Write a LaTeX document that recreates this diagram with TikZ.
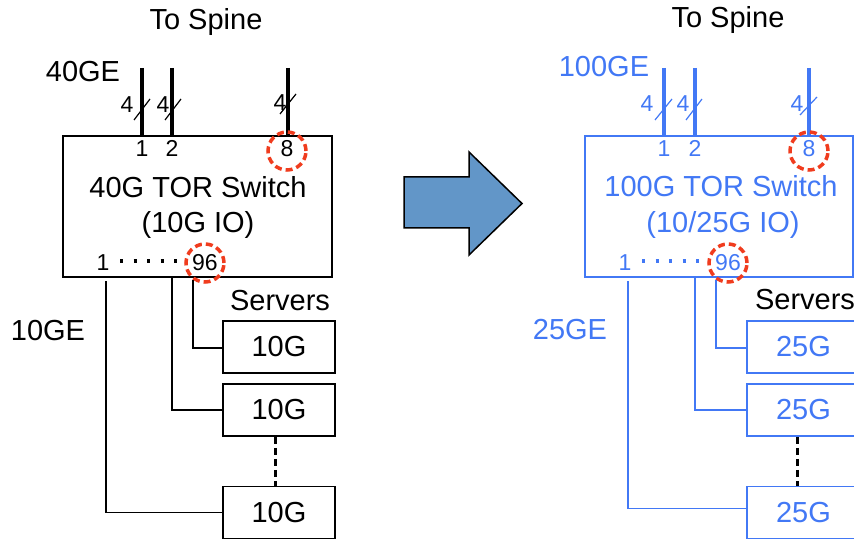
\documentclass[tikz,border=0pt]{standalone}
\usepackage{fontspec}
\setmainfont{Liberation Sans}
\definecolor{nblue}{RGB}{66,120,245}
\definecolor{nred}{RGB}{240,60,30}
\definecolor{arrowfill}{RGB}{98,150,200}
\begin{document}
\begin{tikzpicture}[x=1pt,y=-1pt,
  txt/.style={font=\fontsize{29}{31}\selectfont, inner sep=0pt, anchor=base},
  sml/.style={font=\fontsize{23}{25}\selectfont, inner sep=0pt, anchor=base},
  uplink/.style={line width=3.4pt},
  slashline/.style={line width=1.2pt},
  portcircle/.style={draw=nred, line width=3.5pt, dash pattern=on 7pt off 4pt, circle, minimum size=38pt, inner sep=0pt},
  dotrow/.style={line width=3.2pt, dash pattern=on 3.2pt off 10.3pt},
  wire/.style={line width=1.5pt},
  switchbox/.style={draw, line width=1.5pt, rectangle, inner sep=0pt},
  serverbox/.style={draw, line width=1.8pt, rectangle, inner sep=0pt, minimum width=112pt, minimum height=52pt, font=\fontsize{29}{31}\selectfont},
  gapline/.style={line width=3pt, dash pattern=on 7pt off 4pt},
]
\useasboundingbox (0,0) rectangle (854,540);

% ================= LEFT =================
\node[switchbox, minimum width=269pt, minimum height=141pt] (swL) at (197.5,206.5) {};
\node[txt] (spineL) at (206,30) {To Spine};
\node[txt] (geL) at (83,82) {40GE};
\node[txt] (titleL) at (198,198) {40G TOR Switch};
\node[txt] (ioL) at (198,233) {(10G IO)};

\coordinate (uL1) at (142,68);
\coordinate (uL2) at (172,68);
\coordinate (uL8) at (288,68);
\draw[uplink] (uL1) -- (uL1 |- swL.north);
\draw[uplink] (uL2) -- (uL2 |- swL.north);
\draw[uplink] (uL8) -- (uL8 |- swL.north);
\draw[slashline] (134,120) -- (150,99);
\draw[slashline] (165,120) -- (181,99);
\draw[slashline] (280,114) -- (296,94);
\node[sml] (fL1) at (127,113) {4};
\node[sml] (fL2) at (163,113) {4};
\node[sml] (fL8) at (280,111) {4};

\node[sml] (pL1) at (142,157) {1};
\node[sml] (pL2) at (172,157) {2};
\node[sml] (pL8) at (287,157) {8};
\node[portcircle] (cL8) at (287,151) {};

\node[sml] (dL1) at (103,270) {1};
\node[sml] (dL96) at (205,270) {96};
\draw[dotrow] (120,261) -- (180,261);
\node[portcircle] (cL96) at (205,263) {};

\node[txt] (servL) at (280,310) {Servers};
\node[txt] (tenge) at (48,340) {10GE};
\node[serverbox] (sL1) at (279,347) {10G};
\node[serverbox] (sL2) at (279,410) {10G};
\node[serverbox] (sL3) at (279,512.5) {10G};

\coordinate (wL1) at (106,281);
\coordinate (wL2) at (172,277);
\coordinate (wL3) at (193,280);
\draw[wire] (wL1) |- (sL3.west);
\draw[wire] (wL2) |- (sL2.west);
\draw[wire] (wL3) |- ([yshift=-1pt]sL1.west);
\draw[gapline] ([xshift=-4pt]sL2.south) -- ([xshift=-4pt]sL3.north);

% ================= ARROW =================
\draw[fill=arrowfill, line width=1.5pt, line join=miter]
  (404,177) -- (469,177) -- (469,152) -- (522,203.5) -- (469,255) -- (469,228) -- (404,228) -- cycle;

% ================= RIGHT =================
\node[switchbox, draw=nblue, minimum width=268pt, minimum height=141pt] (swR) at (719,206.5) {};
\node[txt] (spineR) at (728,28) {To Spine};
\node[txt, text=nblue] (geR) at (604,77) {100GE};
\node[txt, text=nblue] (titleR) at (721,197) {100G TOR Switch};
\node[txt, text=nblue] (ioR) at (723,233) {(10/25G IO)};

\coordinate (uR1) at (664,68);
\coordinate (uR2) at (695,68);
\coordinate (uR8) at (809,68);
\draw[uplink, nblue] (uR1) -- (uR1 |- swR.north);
\draw[uplink, nblue] (uR2) -- (uR2 |- swR.north);
\draw[uplink, nblue] (uR8) -- (uR8 |- swR.north);
\draw[slashline, nblue] (655,120) -- (672,99);
\draw[slashline, nblue] (686,120) -- (702,99);
\draw[slashline, nblue] (800,115) -- (817,97);
\node[sml, text=nblue] (fR1) at (647,112) {4};
\node[sml, text=nblue] (fR2) at (683,112) {4};
\node[sml, text=nblue] (fR8) at (797,112) {4};

\node[sml, text=nblue] (pR1) at (664,157) {1};
\node[sml, text=nblue] (pR2) at (695,157) {2};
\node[sml, text=nblue] (pR8) at (809,157) {8};
\node[portcircle] (cR8) at (809,151) {};

\node[sml, text=nblue] (dR1) at (625,270) {1};
\node[sml, text=nblue] (dR96) at (728,270) {96};
\draw[dotrow, nblue] (642,261) -- (702,261);
\node[portcircle] (cR96) at (728,263) {};

\node[txt] (servR) at (805,309) {Servers};
\node[txt, text=nblue] (tfge) at (570,339) {25GE};
\node[serverbox, draw=nblue, text=nblue, minimum width=113pt] (sR1) at (803.5,347) {25G};
\node[serverbox, draw=nblue, text=nblue, minimum width=113pt] (sR2) at (803.5,410) {25G};
\node[serverbox, draw=nblue, text=nblue, minimum width=113pt] (sR3) at (803.5,512.5) {25G};

\coordinate (wR1) at (628,281);
\coordinate (wR2) at (695,277);
\coordinate (wR3) at (716,280);
\draw[wire, nblue] (wR1) |- ([yshift=4pt]sR3.west);
\draw[wire, nblue] (wR2) |- (sR2.west);
\draw[wire, nblue] (wR3) |- ([yshift=-1pt]sR1.west);
\draw[gapline] ([xshift=-6pt]sR2.south) -- ([xshift=-6pt]sR3.north);
\end{tikzpicture}
\end{document}
